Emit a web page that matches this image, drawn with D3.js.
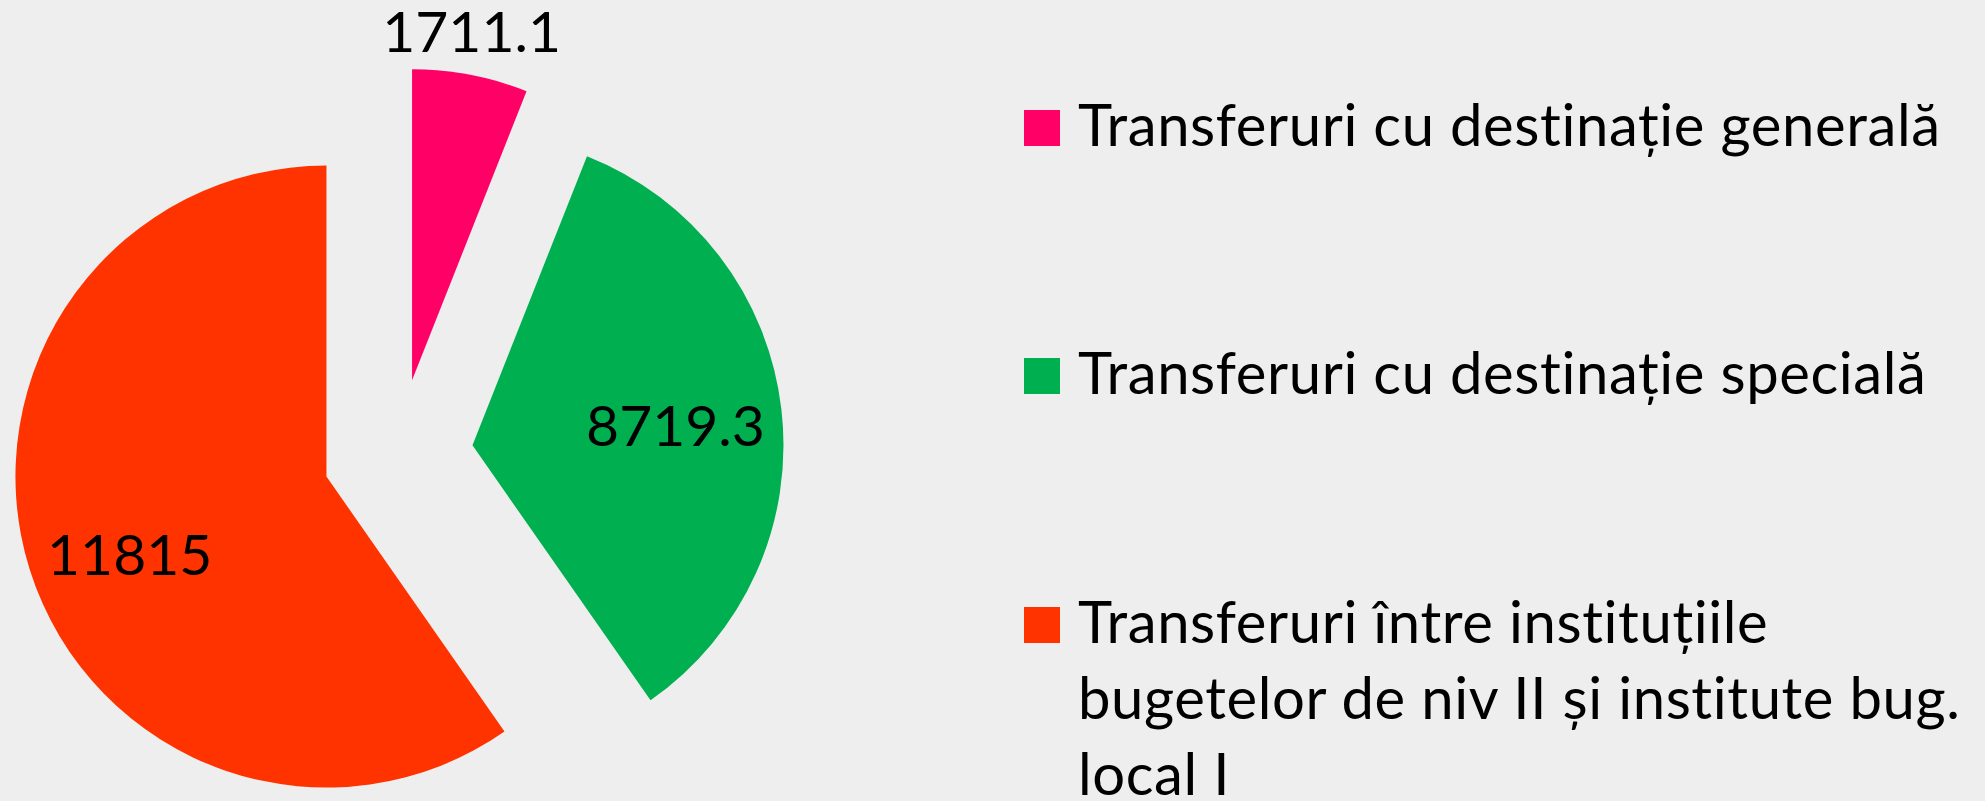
<!DOCTYPE html>
<html>
<head>
<meta charset="utf-8">
<script src="https://cdn.jsdelivr.net/npm/d3@7"></script>
<style>
  html, body { margin: 0; padding: 0; background: #eeeeee; }
  svg { display: block; font-family: Lato, "Open Sans", sans-serif; }
</style>
</head>
<body>
<svg id="chart" width="1985" height="801"></svg>
<script>
// categories (legend text, lines split as in the picture)
var categories = [
    ["Transferuri cu destinație generală"],
    ["Transferuri cu destinație specială"],
    ["Transferuri între instituțiile", "bugetelor de niv II și institute bug.", "local I"]
];
// value labels as printed on the chart
var valueLabels = ["1711.1", "8719.3", "11815"];
// slice shares (%)
var sliceShares = [6.0, 34.3, 59.7];
var colors = ["#ff0066", "#00b050", "#ff3300"];

var width = 1985, height = 801;
var cx = 398, cy = 454, radius = 311, explode = 75;
// small label nudges so they sit where the original put them
var labelNudge = [[-7, 0], [-4, 4], [2, 15]];

var svg = d3.select("#chart");
svg.append("rect").attr("width", width).attr("height", height).attr("fill", "#eeeeee");

var pie = d3.pie().sort(null).value(function(d){ return d; });
var arc = d3.arc().innerRadius(0).outerRadius(radius);
var arcs = pie(sliceShares);

var g = svg.append("g").attr("transform", "translate(" + cx + "," + cy + ")");

function offset(d, dist){
    var a = (d.startAngle + d.endAngle) / 2;
    return [Math.sin(a) * dist, -Math.cos(a) * dist];
}

var slices = g.selectAll("g.slice")
    .data(arcs)
    .enter().append("g")
    .attr("class", "slice")
    .attr("transform", function(d){
        var o = offset(d, explode);
        return "translate(" + o[0] + "," + o[1] + ")";
    });

slices.append("path")
    .attr("d", arc)
    .attr("fill", function(d, i){ return colors[i]; });

// labels: the small slice gets its label outside, the others inside
slices.append("text")
    .attr("transform", function(d, i){
        var r = i == 0 ? radius + 44 : radius * 0.67;
        var c = d3.arc().innerRadius(r).outerRadius(r).centroid(d);
        return "translate(" + (c[0] + labelNudge[i][0]) + "," + (c[1] + labelNudge[i][1]) + ")";
    })
    .attr("dy", "0.36em")
    .attr("text-anchor", "middle")
    .attr("font-size", 57)
    .attr("fill", "#000")
    .text(function(d, i){ return valueLabels[i]; });

// legend
var legendX = 1024, legendTop = [146, 394, 643], lineH = 76, box = 36;
var legend = svg.selectAll("g.legend")
    .data(categories)
    .enter().append("g")
    .attr("class", "legend")
    .attr("transform", function(d, i){ return "translate(" + legendX + "," + legendTop[i] + ")"; });

legend.append("rect")
    .attr("x", 0)
    .attr("y", -box)
    .attr("width", box)
    .attr("height", box)
    .attr("fill", function(d, i){ return colors[i]; });

legend.append("text")
    .attr("font-size", 58)
    .attr("letter-spacing", 0.6)
    .attr("fill", "#000")
    .selectAll("tspan")
    .data(function(d){ return d; })
    .enter().append("tspan")
    .attr("x", 54)
    .attr("y", function(d, j){ return j * lineH; })
    .text(function(d){ return d; });
</script>
</body>
</html>
